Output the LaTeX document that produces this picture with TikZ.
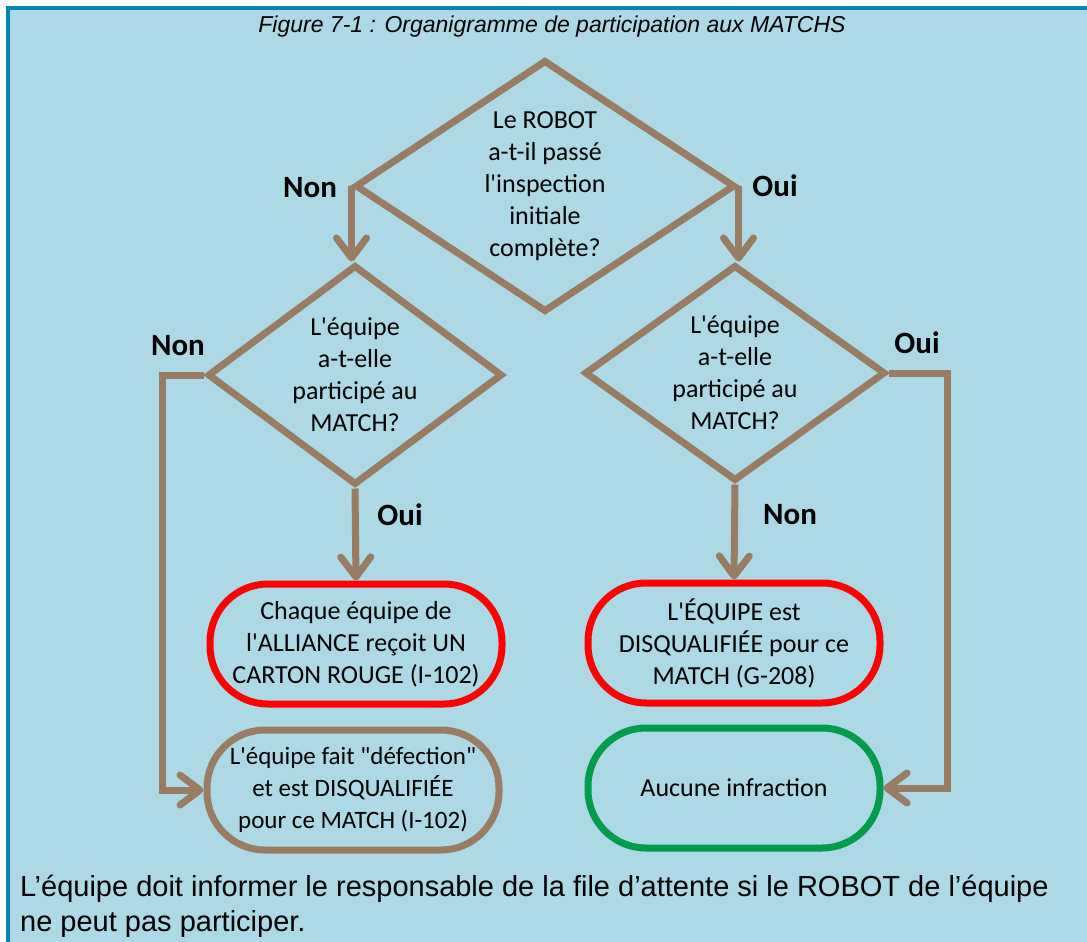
\documentclass[tikz,border=0pt]{standalone}
\usepackage{fontspec}
\setmainfont{Liberation Sans}
\newfontfamily\boxfont{Carlito}
\usetikzlibrary{shapes.geometric,arrows.meta}

\definecolor{bgblue}{RGB}{173,216,230}
\definecolor{bandblue}{RGB}{0,134,176}
\definecolor{flowbrown}{RGB}{152,125,100}
\definecolor{okgreen}{RGB}{0,155,75}

\tikzset{
	question/.style={diamond, draw=flowbrown, line width=7pt, inner sep=-12pt,
			shape aspect=1.4, align=center, font=\boxfont\fontsize{26}{32}\selectfont},
	outcome/.style={rectangle, rounded corners=58pt, line width=7pt, inner sep=0pt,
			minimum width=292pt, minimum height=120pt, align=center,
			font=\boxfont\fontsize{26}{32}\selectfont},
	flow/.style={draw=flowbrown, line width=7pt,
			-{Straight Barb[length=20pt,width=30pt,round]}},
	answer/.style={font=\boxfont\bfseries\fontsize{31}{36}\selectfont}
}

\begin{document}
\begin{tikzpicture}[x=1pt,y=-1pt]
	\useasboundingbox (0,0) rectangle (1087,942);
	\fill[white] (0,0) rectangle (1087,942);
	\fill[bandblue] (6,6) rectangle (1087,942);
	\fill[bgblue] (10,10) rectangle (1087,942);

	\node[font=\itshape\fontsize{23}{26}\selectfont] (title) at (552,27)
		{Figure 7-1 : Organigramme de participation aux MATCHS};

	% questions
	\node[question, minimum width=380pt, minimum height=252pt] (inspect) at (545,186)
		{Le ROBOT\\a-t-il passé\\l'inspection\\initiale\\complète?};
	\node[question, minimum width=295pt, minimum height=220pt] (playleft) at (355,375)
		{L'équipe\\a-t-elle\\participé au\\MATCH?};
	\node[question, minimum width=301pt, minimum height=216pt] (playright) at (735,373)
		{L'équipe\\a-t-elle\\participé au\\MATCH?};

	% outcomes
	\node[outcome, draw=red] (redcard) at (356,644)
		{Chaque équipe de\\l'ALLIANCE reçoit UN\\CARTON ROUGE (I-102)};
	\node[outcome, draw=flowbrown, font=\boxfont\fontsize{25}{32}\selectfont] (defect) at (353,790)
		{L'équipe fait "défection"\\et est DISQUALIFIÉE\\pour ce MATCH (I-102)};
	\node[outcome, draw=red] (disq) at (734,643)
		{L'ÉQUIPE est\\DISQUALIFIÉE pour ce\\MATCH (G-208)};
	\node[outcome, draw=okgreen] (noinf) at (734,788)
		{Aucune infraction};

	% bends on the outer lines
	\coordinate (lbend) at (162,375);
	\coordinate (rbend) at (947,373);

	% connectors
	\draw[flow] (inspect.west) -- (inspect.west |- playleft.north);
	\draw[flow] (inspect.east) -- (inspect.east |- playright.north);
	\draw[flow] (playleft.south) -- (redcard.north);
	\draw[flow] (playright.south) -- (disq.north);
	\draw[flow] (playleft.west) -- (lbend) |- (defect.west);
	\draw[flow] (playright.east) -- (rbend) |- (noinf.east);

	% answers
	\node[answer] (no1) at (310,188) {Non};
	\node[answer] (yes1) at (775,186) {Oui};
	\node[answer] (no2) at (178,346) {Non};
	\node[answer] (yes2) at (400,515) {Oui};
	\node[answer] (no3) at (790,515) {Non};
	\node[answer] (yes3) at (917,343) {Oui};

	\node[anchor=north west, align=left, inner sep=0pt,
		font=\fontsize{29}{35}\selectfont] (note) at (20,875)
		{L’équipe doit informer le responsable de la file d’attente si le ROBOT de l’équipe\\ne peut pas participer.};
\end{tikzpicture}
\end{document}
